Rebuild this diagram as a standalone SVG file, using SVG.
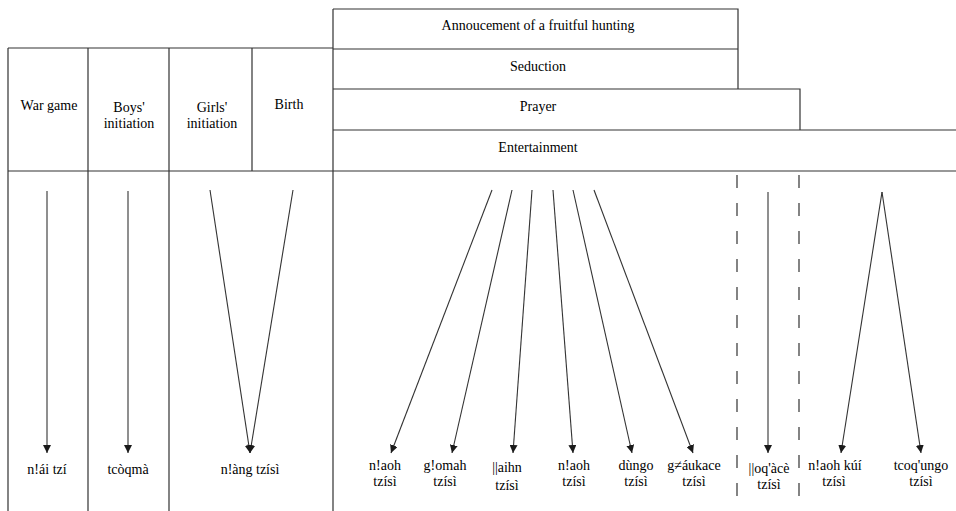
<svg xmlns="http://www.w3.org/2000/svg" width="956" height="511" viewBox="0 0 956 511">
<defs>
<style>
.ln{stroke:#333;stroke-width:1.2;fill:none}
.ds{stroke:#333;stroke-width:1.2;fill:none;stroke-dasharray:13 15}
.ar{stroke:#333;stroke-width:1.1;fill:none;marker-end:url(#ah)}
text{font-family:"Liberation Serif","Times New Roman",serif;font-size:14px;fill:#000;text-anchor:middle}
</style>
<marker id="ah" viewBox="0 0 10 10" refX="10" refY="5" markerWidth="8" markerHeight="8" markerUnits="userSpaceOnUse" orient="auto">
<path d="M0,0 L10,5 L0,10 Z" fill="#1a1a1a"/>
</marker>
</defs>
<rect width="956" height="511" fill="#fff"/>
<g id="frame">
<path class="ln" d="M333,9 H738 V89 M333,49 H738 M333,89 H800 V130 M333,130 H956 M8,48 H333 M8,171 H956 M8,48 V511 M88,48 V511 M169,48 V511 M252,48 V171 M333,9 V511"/>
<path class="ds" d="M737,175 V511 M799,175 V511"/>
</g>
<g id="headers">
<g id="h-annoucement"><text x="538" y="30">Annoucement of a fruitful hunting</text></g>
<g id="h-seduction"><text x="538" y="71">Seduction</text></g>
<g id="h-prayer"><text x="538" y="111">Prayer</text></g>
<g id="h-entertainment"><text x="538" y="152">Entertainment</text></g>
<g id="h-war"><text x="49" y="110">War game</text></g>
<g id="h-boys"><text x="129" y="112">Boys'<tspan x="129" dy="16">initiation</tspan></text></g>
<g id="h-girls"><text x="212" y="112">Girls'<tspan x="212" dy="16">initiation</tspan></text></g>
<g id="h-birth"><text x="289" y="109">Birth</text></g>
</g>
<g id="connectors">
<line class="ar" x1="47" y1="191" x2="47" y2="453"/>
<line class="ar" x1="128" y1="191" x2="128" y2="453"/>
<line class="ar" x1="210" y1="190" x2="250" y2="453"/>
<line class="ar" x1="293" y1="190" x2="250" y2="453"/>
<line class="ar" x1="492" y1="190" x2="391" y2="453"/>
<line class="ar" x1="512" y1="190" x2="452" y2="453"/>
<line class="ar" x1="532" y1="190" x2="513" y2="453"/>
<line class="ar" x1="553" y1="190" x2="573" y2="453"/>
<line class="ar" x1="573" y1="190" x2="632" y2="453"/>
<line class="ar" x1="594" y1="190" x2="693" y2="453"/>
<line class="ar" x1="768" y1="192" x2="768" y2="453"/>
<line class="ar" x1="882" y1="192" x2="841" y2="453"/>
<line class="ar" x1="882" y1="192" x2="921" y2="453"/>
</g>
<g id="labels">
<g id="l-naitzi"><text x="47" y="474">n!ái tzí</text></g>
<g id="l-tcoqma"><text x="128" y="474">tcòqmà</text></g>
<g id="l-nang"><text x="250" y="474">n!àng tzísì</text></g>
<g id="l-naoh1"><text x="385" y="470">n!aoh<tspan x="385" dy="16">tzísì</tspan></text></g>
<g id="l-gomah"><text x="445" y="470">g!omah<tspan x="445" dy="16">tzísì</tspan></text></g>
<g id="l-aihn"><text x="507" y="472">||aihn<tspan x="507" dy="18">tzísì</tspan></text></g>
<g id="l-naoh2"><text x="574" y="470">n!aoh<tspan x="574" dy="16">tzísì</tspan></text></g>
<g id="l-dungo"><text x="636" y="470">dùngo<tspan x="636" dy="16">tzísì</tspan></text></g>
<g id="l-gaukace"><text x="694" y="470">g≠áukace<tspan x="694" dy="16">tzísì</tspan></text></g>
<g id="l-oqace"><text x="769" y="473">||oq'àcè<tspan x="769" dy="16">tzísì</tspan></text></g>
<g id="l-naohkui"><text x="835" y="470">n!aoh kúí<tspan x="834" dy="16">tzísì</tspan></text></g>
<g id="l-tcoqungo"><text x="921" y="470">tcoq'ungo<tspan x="921" dy="16">tzísì</tspan></text></g>
</g>
</svg>
